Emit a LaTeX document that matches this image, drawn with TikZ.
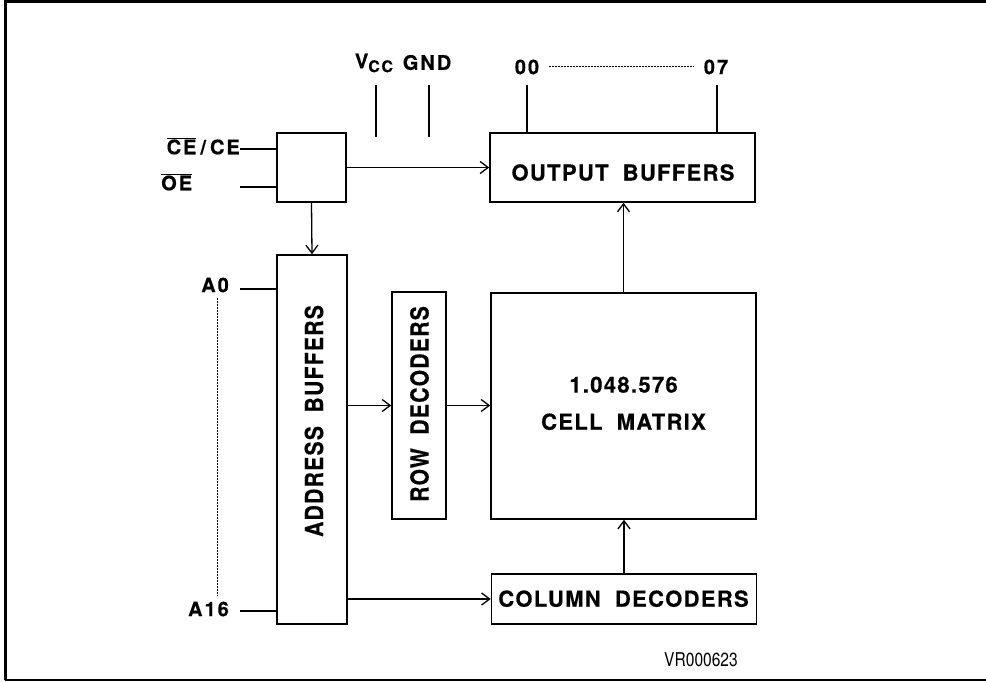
\documentclass[tikz,border=0pt]{standalone}
\usepackage{fontspec}
\setmainfont{TeX Gyre Heros}
\newfontfamily\lblfont[LetterSpace=6,WordSpace=1.9,BoldFeatures={FakeBold=0.4}]{TeX Gyre Heros}
\newfontfamily\pinfont[LetterSpace=10,BoldFeatures={FakeBold=0.4}]{TeX Gyre Heros}
\usetikzlibrary{arrows.meta}
\tikzset{
  blk/.style={draw, line width=1.6pt, inner sep=0pt},
  txt/.style={font=\lblfont\bfseries\fontsize{22}{24}\selectfont, inner sep=0pt},
  pin/.style={font=\pinfont\bfseries\fontsize{20}{22}\selectfont, inner sep=0pt},
  wire/.style={line width=1.3pt},
  arr/.style={line width=1.3pt, -{Straight Barb[length=8pt,width=12pt]}},
  dots/.style={line width=1pt, dash pattern=on 1.5pt off 1.5pt},
}
\newcommand{\vtext}[1]{\rotatebox{90}{\scalebox{0.96}[1.13]{#1}}}
\begin{document}
\begin{tikzpicture}[x=1pt,y=-1pt]
\useasboundingbox (0,0) rectangle (986,682);
% frame
\draw[line width=3pt] (5,680) -- (5,2) -- (986,2);
\draw[line width=2pt] (5,680) -- (986,680);

% blocks
\node[blk, minimum width=69pt, minimum height=69pt] (ctrl) at (311.5,167.5) {};
\node[blk, minimum width=265pt, minimum height=69pt] (outb) at (622.5,167.5) {};
\node[txt] (outbt) at (623,172.5) {OUTPUT BUFFERS};
\node[blk, minimum width=70pt, minimum height=369pt] (addr) at (312,439.5) {};
\node[txt] (addrt) at (314,421) {\vtext{ADDRESS BUFFERS}};
\node[blk, minimum width=54pt, minimum height=227pt] (rowd) at (419,405.5) {};
\node[txt] (rowdt) at (419.5,404) {\vtext{ROW DECODERS}};
\node[blk, minimum width=265pt, minimum height=226pt] (cell) at (623.5,406) {};
\node[txt] (cellt1) at (623.5,384.7) {1.048.576};
\node[txt] (cellt2) at (623.5,421.7) {CELL MATRIX};
\node[blk, minimum width=265pt, minimum height=50pt] (cold) at (624,599) {};
\node[txt] (coldt) at (623.5,598.7) {COLUMN DECODERS};

% connectors
\draw[arr] (ctrl.east) -- (outb.west);
\draw[arr] (ctrl.south) -- (addr.north);
\draw[arr] (addr.east |- rowd.west) -- (rowd.west);
\draw[arr] (rowd.east) -- (cell.west |- rowd.east);
\draw[arr] (cell.north) -- (cell.north |- outb.south);
\draw[arr] (addr.east |- cold.west) -- (cold.west);
\draw[arr] (cold.north) -- (cold.north |- cell.south);

% control inputs
\node[pin, anchor=east] (ce) at (240,146) {$\overline{\mbox{CE}}$\hspace{4pt}/\hspace{4pt}CE};
\node[pin, anchor=west] (oe) at (161,182) {$\overline{\mbox{OE}}$};
\coordinate (cein) at (240,149);
\coordinate (oein) at (240,187);
\draw[wire] (cein) -- (cein -| ctrl.west);
\draw[wire] (oein) -- (oein -| ctrl.west);

% supply
\node[pin] (vcc) at (374,63) {V\raisebox{-0.35ex}{\fontsize{16}{16}\selectfont CC}};
\node[pin] (gnd) at (427,62.5) {GND};
\coordinate (vcct) at (376,85);
\coordinate (vccb) at (376,137);
\coordinate (gndt) at (429,85);
\coordinate (gndb) at (429,137);
\draw[wire] (vcct) -- (vccb);
\draw[wire] (gndt) -- (gndb);

% outputs
\node[pin] (o0) at (527,67) {00};
\node[pin] (o7) at (716,67) {07};
\path (o0.east) ++(10pt,0) coordinate (d1) (o7.west) ++(-10pt,0) coordinate (d2);
\draw[dots] (d1) -- (d2);
\coordinate (o0t) at (527,85);
\coordinate (o7t) at (717,85);
\draw[wire] (o0t) -- (o0t |- outb.north);
\draw[wire] (o7t) -- (o7t |- outb.north);

% address inputs
\node[pin, anchor=east] (a0) at (229,285) {A0};
\node[pin, anchor=east] (a16) at (229,609) {A16};
\coordinate (a0in) at (240,289);
\coordinate (a16in) at (240,611);
\draw[wire] (a0in) -- (a0in -| addr.west);
\draw[wire] (a16in) -- (a16in -| addr.west);
\coordinate (av1) at (217,298);
\coordinate (av2) at (217,596);
\draw[dots] (av1) -- (av2);

% reference code
\node[inner sep=0pt] (ref) at (701,660) {\scalebox{0.82}[1]{\fontsize{19}{20}\selectfont VR000623}};
\end{tikzpicture}
\end{document}
